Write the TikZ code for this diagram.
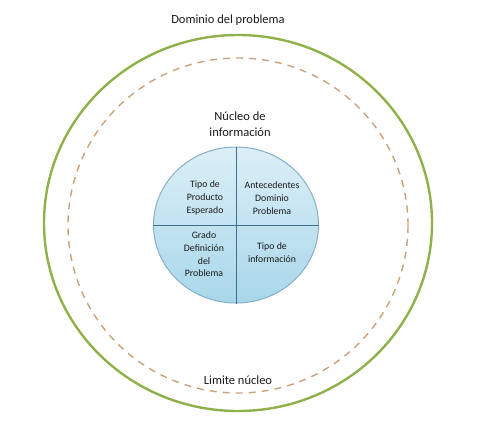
\documentclass[tikz,border=0pt]{standalone}
\usepackage{fontspec}
\setmainfont{Carlito}
\usetikzlibrary{shapes.geometric}
\definecolor{outergreen}{HTML}{8FB04A}
\definecolor{dashtan}{HTML}{C9A27C}
\definecolor{rimblue}{HTML}{86AFC6}
\definecolor{divblue}{HTML}{3F6F8E}
\definecolor{topblue}{HTML}{DCEFF7}
\definecolor{botblue}{HTML}{A8D7EA}
\definecolor{txt}{HTML}{1A1A1A}
\tikzset{
  lbl/.style={text=txt, font=\fontsize{12.5}{16}\selectfont, align=center, inner sep=0pt},
  qlbl/.style={text=txt, font=\fontsize{9.8}{12.7}\selectfont, align=center, inner sep=0pt},
  ring/.style={ellipse, inner sep=0pt},
}
\begin{document}
\begin{tikzpicture}[x=1pt,y=1pt]
\useasboundingbox (0,0) rectangle (478,-429);
\node[ring, draw=outergreen, line width=2.4pt, minimum width=388pt, minimum height=376pt] (outer) at (238,-223) {};
\node[ring, draw=dashtan, line width=1.4pt, dash pattern=on 7pt off 6pt, minimum width=340pt, minimum height=335pt] (limit) at (238,-225.5) {};
\node[ring, draw=rimblue, line width=1pt, top color=topblue, bottom color=botblue, minimum width=165pt, minimum height=156pt] (core) at (236,-225) {};
\draw[divblue, line width=0.8pt] (core.north) -- (core.south);
\draw[divblue, line width=0.8pt] (core.west) -- (core.east);
\node[lbl] (dom) at (228,-20) {Dominio del problema};
\node[lbl] (nuc) at (240,-124) {Núcleo de\\información};
\node[lbl] (lim) at (238,-380) {Limite núcleo};
\node[qlbl] (q1) at (205,-198) {Tipo de\\Producto\\Esperado};
\node[qlbl] (q2) at (272,-198) {Antecedentes\\Dominio\\Problema};
\node[qlbl] (q3) at (204,-254.5) {Grado\\Definición\\del\\Problema};
\node[qlbl] (q4) at (272,-252.5) {Tipo de\\información};
\end{tikzpicture}
\end{document}
